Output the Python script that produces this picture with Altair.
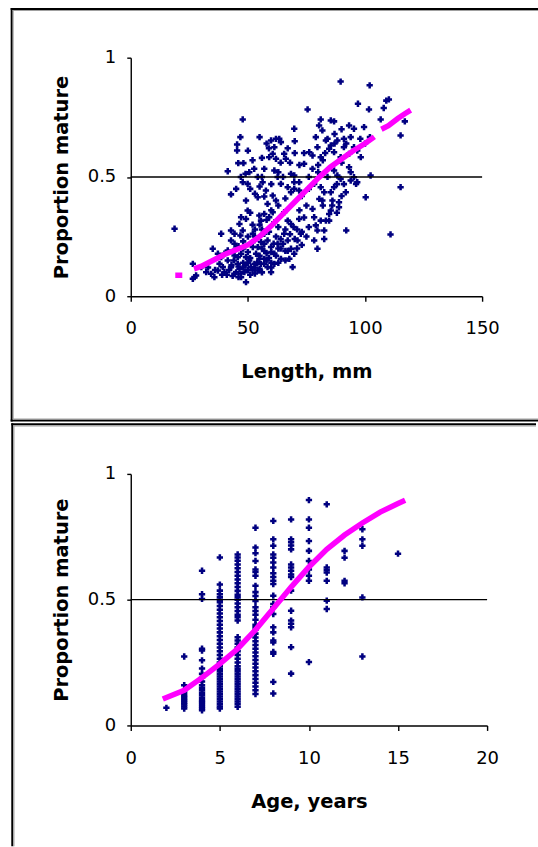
import altair as alt
import pandas as pd

# ---- Panel 1: proportion mature against length (mm) ----
length_points = [
    (89.6, .90), (102.0, .884), (109.1, .82), (110.2, .825), (97.0, .807), (75.5, .783),
    (101.7, .783), (108.0, .789), (47.8, .741), (106.7, .741), (117.0, .733), (81.1, .741),
    (85.4, .737), (86.8, .733), (69.8, .702), (93.2, .716), (95.3, .702), (99.6, .709),
    (46.8, .667), (55.0, .667), (115.2, .674), (102.1, .667),
    (80.4, .716), (81.8, .695), (79.0, .667), (83.3, .653), (85.4, .632), (84.7, .618),
    (86.8, .604), (88.2, .653), (79.7, .625), (76.2, .604), (77.6, .59), (81.1, .583),
    (89.6, .583), (91.0, .625), (93.9, .667), (95.3, .625), (93.2, .597), (96.7, .611), (98.2, .583),
    (45.4, .611), (45.4, .636), (59.9, .653), (63.4, .66), (64.1, .646), (61.3, .625),
    (60.6, .597), (59.1, .583), (62.0, .576), (65.5, .597), (66.2, .576), (74.0, .555), (77.6, .534),
    (45.9, .558), (48.1, .558), (41.4, .524), (49.0, .513), (50.6, .52), (52.7, .534),
    (54.2, .50), (56.3, .478), (57.0, .534), (47.8, .478), (49.9, .471),
    (61.3, .527), (62.7, .50), (64.1, .471), (68.4, .513), (69.8, .506), (69.8, .478), (71.9, .478),
    (86.8, .527), (88.2, .506), (89.6, .492), (93.2, .541), (93.9, .52), (95.3, .499),
    (96.7, .478), (93.9, .485), (102.4, .506), (96.2, .471), (91.8, .436), (100.3, .415),
    (115.2, .457), (42.8, .427), (54.2, .415), (57.0, .418), (58.4, .387), (60.6, .422),
    (62.0, .401), (57.7, .443), (67.0, .457), (68.4, .436), (69.8, .45), (71.9, .443),
    (78.3, .471), (81.1, .457), (82.6, .436), (85.4, .436), (86.8, .457),
    (80.5, .408), (81.8, .401), (86.1, .401), (88.9, .394), (88.9, .373), (85.4, .359), (84.7, .317),
    (49.2, .401), (49.9, .359), (49.2, .324), (47.1, .331), (46.4, .303), (47.8, .276), (46.8, .255),
    (54.9, .338), (55.6, .317), (57.0, .345), (59.1, .331), (60.6, .352), (61.3, .31),
    (65.5, .352), (67.0, .317), (68.4, .303), (69.5, .29), (71.9, .324), (72.6, .262), (71.2, .234),
    (77.6, .366), (78.3, .331), (79.0, .297), (81.1, .317), (83.3, .317), (84.7, .345),
    (82.6, .276), (79.7, .276), (78.3, .234), (79.7, .199), (82.6, .24), (92.0, .276),
    (110.9, .259), (18.7, .283), (38.6, .262), (42.8, .276), (44.3, .262), (42.8, .234),
    (44.3, .22), (45.0, .199), (35.0, .199), (37.2, .178),
    (52.1, .262), (52.8, .234), (54.2, .206), (55.6, .227), (57.0, .262), (58.4, .234),
    (59.9, .206), (61.3, .178), (62.7, .22), (65.5, .262), (67.0, .234), (68.4, .199),
    (69.8, .178), (67.7, .157), (69.1, .122), (61.3, .136), (64.1, .157), (59.9, .101),
    (37.9, .136), (39.3, .122), (40.0, .101), (41.4, .15), (42.8, .122), (44.3, .094),
    (45.7, .136), (46.4, .115), (47.1, .08), (48.5, .101), (49.2, .059),
    (30.1, .122), (32.2, .101), (34.3, .094), (35.7, .08), (37.2, .108),
    (26.5, .073), (27.2, .08), (27.9, .087), (26.5, .136),
    (47.1, .178), (49.2, .164), (50.6, .15), (51.3, .122), (52.8, .136), (54.2, .108),
    (55.6, .136), (57.0, .157), (38.6, .164), (40.0, .178), (41.4, .192), (44.3, .171),
    (45.7, .164), (52.1, .206), (53.5, .178), (54.9, .157), (57.0, .136), (58.4, .122),
    (43.5, .085), (45.0, .10), (46.0, .125), (48.0, .14), (50.0, .11), (51.0, .09),
    (53.0, .095), (55.0, .115), (56.0, .10), (58.0, .15), (60.0, .12), (63.0, .14),
    (62.0, .17), (66.0, .19), (64.0, .20), (60.0, .185), (57.0, .19), (50.0, .185),
    (48.0, .20), (53.0, .25), (56.0, .28), (59.0, .27), (63.0, .29), (66.0, .28),
    (71.0, .20), (73.0, .215), (75.0, .25), (76.0, .29), (74.0, .33), (72.0, .36),
    (63.0, .38), (66.0, .41), (52.0, .30), (51.0, .35), (53.0, .43), (55.0, .46),
    (72.0, .55), (74.0, .60), (59.0, .62), (62.0, .66), (58.0, .64), (50.0, .61),
    (52.0, .57), (84.0, .66), (87.0, .68), (90.0, .70), (91.0, .66), (92.0, .64),
    (98.0, .66), (100.0, .64), (87.0, .64), (83.0, .60), (90.0, .56), (88.0, .47),
    (91.0, .47), (84.0, .50), (80.0, .52), (76.0, .50), (73.0, .42), (75.0, .38),
    (86.0, .38), (88.0, .35), (90.0, .42), (82.0, .38), (76.0, .45), (63.0, .52),
    (65.0, .50), (68.0, .56), (70.0, .60), (80.0, .55), (82.0, .57),
    (41.0, .09), (42.0, .11), (43.0, .13), (44.0, .15), (46.0, .08), (47.0, .095),
    (48.0, .12), (49.0, .13), (50.0, .14), (51.0, .16), (52.0, .11), (53.0, .12),
    (54.0, .14), (55.0, .17), (56.0, .20), (57.0, .22), (58.0, .18), (59.0, .16),
    (60.0, .14), (61.0, .22), (62.0, .25), (63.0, .20), (64.0, .24), (65.0, .22),
    (66.0, .15), (67.0, .19), (68.0, .26), (70.0, .24), (71.0, .28), (73.0, .27),
    (39.0, .09), (36.0, .11), (33.0, .12), (44.0, .19), (46.0, .21), (48.0, .23),
    (50.0, .25), (53.0, .28), (55.0, .30), (58.0, .32), (60.0, .36), (45.0, .45),
    (47.0, .50), (56.0, .50), (60.0, .47), (64.0, .56), (67.0, .62), (70.0, .65),
    (56.0, .58), (51.0, .45),
]
length_mm = [p[0] for p in length_points]
mature_by_length = [p[1] for p in length_points]

# fitted proportion mature by length, drawn as three runs
fit_length_mm = [19, 22,
                 27, 30, 35, 40, 45, 50, 55, 60, 65, 70, 75, 80, 85, 90, 95, 100, 104,
                 107, 110, 114, 117, 119.5]
fit_length_p = [0.088, 0.088,
                0.115, 0.125, 0.15, 0.175, 0.195, 0.215, 0.25, 0.295, 0.345, 0.395,
                0.445, 0.495, 0.54, 0.575, 0.61, 0.64, 0.668,
                0.70, 0.715, 0.745, 0.765, 0.78]
fit_length_run = ["a"] * 2 + ["b"] * 17 + ["c"] * 5

# ---- Panel 2: proportion mature against age (years) ----
mature_by_age = {
    2: [0.07],
    3: [0.067, 0.075, 0.083, 0.09, 0.098, 0.105, 0.113, 0.12, 0.13, 0.14, 0.16, 0.274],
    4: [0.06, 0.068, 0.076, 0.085, 0.093, 0.10, 0.11, 0.12, 0.13, 0.14, 0.15, 0.16,
        0.175, 0.19, 0.205, 0.226, 0.259, 0.298, 0.305, 0.503, 0.522, 0.615],
    5: [0.067, 0.075, 0.085, 0.095, 0.105, 0.115, 0.125, 0.135, 0.145, 0.155, 0.165,
        0.175, 0.185, 0.195, 0.205, 0.215, 0.225, 0.235, 0.25, 0.265, 0.28, 0.295,
        0.31, 0.325, 0.34, 0.355, 0.37, 0.385, 0.40, 0.415, 0.43, 0.445, 0.46, 0.475,
        0.49, 0.50, 0.51, 0.522, 0.536, 0.56, 0.668],
    6: [0.074, 0.085, 0.095, 0.105, 0.115, 0.125, 0.135, 0.145, 0.155, 0.165, 0.175,
        0.185, 0.195, 0.205, 0.215, 0.225, 0.235, 0.25, 0.265, 0.28, 0.295, 0.31,
        0.325, 0.338, 0.351, 0.417, 0.43, 0.44, 0.455, 0.47, 0.485, 0.50, 0.51, 0.52,
        0.535, 0.55, 0.565, 0.58, 0.595, 0.61, 0.625, 0.64, 0.655, 0.668, 0.68],
    7: [0.125, 0.14, 0.155, 0.17, 0.185, 0.20, 0.215, 0.23, 0.245, 0.26, 0.275, 0.29,
        0.305, 0.32, 0.335, 0.35, 0.365, 0.38, 0.39, 0.40, 0.42, 0.44, 0.455, 0.47,
        0.495, 0.515, 0.53, 0.555, 0.595, 0.61, 0.62, 0.654, 0.685, 0.707, 0.786],
    8: [0.127, 0.173, 0.285, 0.292, 0.33, 0.338, 0.37, 0.39, 0.443, 0.47, 0.483, 0.516,
        0.562, 0.575, 0.59, 0.605, 0.628, 0.648, 0.667, 0.68, 0.714, 0.74, 0.813],
    9: [0.206, 0.311, 0.39, 0.404, 0.417, 0.456, 0.536, 0.59, 0.60, 0.615, 0.628, 0.64,
        0.70, 0.715, 0.728, 0.74, 0.819],
    10: [0.252, 0.575, 0.595, 0.62, 0.654, 0.694, 0.733, 0.786, 0.819, 0.896],
    11: [0.463, 0.496, 0.575, 0.608, 0.618, 0.628, 0.879],
    12: [0.565, 0.575, 0.667, 0.694],
    13: [0.274, 0.509, 0.714, 0.74, 0.78],
    15: [0.683],
}
age_years = [a for a, vals in mature_by_age.items() for _ in vals]
mature_age_p = [v for vals in mature_by_age.values() for v in vals]

fit_age_years = [1.8, 3, 4, 5, 6, 7, 8, 9, 10, 11, 12, 13, 14, 15, 15.4]
fit_age_p = [0.105, 0.14, 0.19, 0.245, 0.305, 0.38, 0.465, 0.55, 0.63, 0.70,
             0.757, 0.805, 0.848, 0.882, 0.895]

NAVY = "#000080"
MAGENTA = "#FF00FF"
FONT = "DejaVu Sans"
GREY = "#a0a0a0"


def strip(x0, x1, y0, y1, color, ox, oy):
    """A filled rectangle given in page pixels, placed relative to a panel's plot origin."""
    return alt.Chart(pd.DataFrame({"k": [0]})).mark_rect(color=color).encode(
        x=alt.value(x0 - ox), x2=alt.value(x1 - ox),
        y=alt.value(y0 - oy), y2=alt.value(y1 - oy),
    )


def panel(points, fit, x_title, x_domain, x_ticks, w, h, ox, oy, frame, x_label_pad, title_y):
    x_enc = alt.X(
        "x:Q",
        scale=alt.Scale(domain=x_domain, nice=False, zero=False),
        axis=alt.Axis(
            values=x_ticks, format="~r", title=x_title, tickSize=5,
            labelPadding=x_label_pad, labelFlush=False, labelOverlap=False,
            titleX=w / 2, titleY=title_y, titleAlign="center", titleBaseline="alphabetic",
        ),
    )
    y_enc = alt.Y(
        "p:Q",
        scale=alt.Scale(domain=[0, 1], nice=False),
        axis=alt.Axis(
            values=[0, 0.5, 1], format="~r", title="Proportion mature", tickSize=4,
            labelPadding=11, labelFlush=False, labelOverlap=False,
            titleAngle=270, titleX=-63.5, titleY=h / 2,
            titleAlign="center", titleBaseline="alphabetic",
        ),
    )
    pts = alt.Chart(points).mark_point(
        shape="cross", filled=True, size=40, color=NAVY, opacity=1, strokeWidth=0
    ).encode(x=x_enc, y=y_enc)
    half = alt.Chart(pd.DataFrame({"k": [0]})).mark_rule(
        color="black", strokeWidth=1.4
    ).encode(y=alt.datum(0.5))
    curve = alt.Chart(fit).mark_line(
        color=MAGENTA, strokeWidth=5.5, strokeCap="butt"
    ).encode(x="x:Q", y="p:Q", detail="run:N")
    pieces = [strip(*f, ox, oy) for f in frame]
    return alt.layer(*pieces, pts, half, curve).properties(width=w, height=h)


len_df = pd.DataFrame({"x": length_mm, "p": mature_by_length})
len_fit = pd.DataFrame({"x": fit_length_mm, "p": fit_length_p, "run": fit_length_run})
age_df = pd.DataFrame({"x": age_years, "p": mature_age_p})
age_fit = pd.DataFrame({"x": fit_age_years, "p": fit_age_p, "run": ["a"] * len(fit_age_years)})

# frame of each panel (page pixels): x0, x1, y0, y1, colour
top_frame = [
    (0, 1, 0, 1, "white"),
    (8.7, 10.7, 7.3, 421.5, "black"),
    (8.7, 537, 7.3, 9.3, "black"),
    (8.7, 537, 419.5, 421.5, "black"),
    (10.7, 11.7, 9.3, 419.5, GREY),
    (10.7, 537, 9.3, 10.3, GREY),
    (10.7, 537, 418.5, 419.5, GREY),
]
bottom_frame = [
    (0, 1, 421.5, 422.3, "white"),
    (11.3, 537, 422.3, 424.3, "black"),
    (11.3, 13.3, 422.3, 846, "black"),
    (13.3, 14.5, 424.3, 846, GREY),
    (13.3, 537, 424.3, 425.5, GREY),
]

top = panel(len_df, len_fit, "Length,  mm", [0, 150], [0, 50, 100, 150],
            352, 239, 129, 57, top_frame, 18, 81)
bottom = panel(age_df, age_fit, "Age,  years", [0, 20], [0, 5, 10, 15, 20],
               357, 252, 131, 473, bottom_frame, 19, 82)

chart = alt.vconcat(top, bottom, spacing=0).properties(
    padding=0, background="white"
).configure_view(stroke=None).configure_axis(
    domainColor="black", tickColor="black", domainWidth=1.4, tickWidth=1.4,
    labelColor="black", titleColor="black", grid=False,
    labelFont=FONT, labelFontSize=18, titleFont=FONT, titleFontSize=19.5,
    titleFontWeight="bold",
)

chart.save("out.html", embed_options={"renderer": "svg", "actions": False})
